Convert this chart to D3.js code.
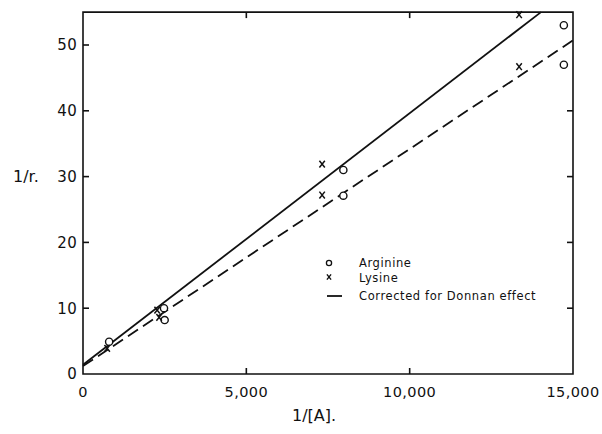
<!DOCTYPE html>
<html><head><meta charset="utf-8">
<script src="https://cdn.jsdelivr.net/npm/d3@7"></script>
<style>body{margin:0;background:#fff}svg{display:block}text{font-family:"DejaVu Sans",sans-serif;fill:#111}</style>
</head><body><div id="c"></div>
<script>
// Data
const arginine = [[800,4.9],[2480,10.0],[2500,8.2],[7970,31.0],[7970,27.1],[14720,53.0],[14720,47.0]];
const lysine = [[740,3.9],[2270,9.7],[2330,8.6],[7320,31.9],[7320,27.2],[13350,54.6],[13350,46.7]];
const solidLine = [[0,1.4],[14020,55]];     // Corrected for Donnan effect
const dashedLine = [[0,1.2],[15000,50.7]];  // uncorrected fit
const xTicks = [0,5000,10000,15000];
const xTickLabels = ["0","5,000","10,000","15,000"];
const yTicks = [0,10,20,30,40,50];
const legendItems = ["Arginine","Lysine","Corrected for Donnan effect"];

const W=602,H=434;
const svg=d3.select("#c").append("svg").attr("width",W).attr("height",H);
const x=d3.scaleLinear().domain([0,15000]).range([83,573]);
const y=d3.scaleLinear().domain([0,55]).range([374,12.1]);

// frame
const g=svg.append("g").attr("stroke","#111").attr("stroke-width",1.6).attr("fill","none");
g.append("path").attr("d",`M${x(0)},${y(55)}H${x(15000)}V${y(0)}H${x(0)}Z`);

// inward ticks
const tl=6;
yTicks.filter(d=>d>0).forEach(d=>{
  g.append("line").attr("x1",x(0)).attr("x2",x(0)+tl).attr("y1",y(d)).attr("y2",y(d));
  if(d<50) g.append("line").attr("x1",x(15000)).attr("x2",x(15000)-tl).attr("y1",y(d)).attr("y2",y(d));
});
[5000,10000].forEach(d=>{
  g.append("line").attr("x1",x(d)).attr("x2",x(d)).attr("y1",y(0)).attr("y2",y(0)-tl);
  g.append("line").attr("x1",x(d)).attr("x2",x(d)).attr("y1",y(55)).attr("y2",y(55)+tl);
});

// tick labels
svg.append("g").selectAll("text").data(yTicks).join("text")
  .attr("x",x(0)-6).attr("y",d=>y(d)).attr("dy","0.36em").attr("text-anchor","end")
  .attr("font-size",15).attr("letter-spacing",0.3).text(d=>d);
svg.append("g").selectAll("text").data(xTicks).join("text")
  .attr("x",d=>x(d)).attr("y",y(0)+23).attr("text-anchor","middle")
  .attr("font-size",14.5).attr("letter-spacing",0.4).text((d,i)=>xTickLabels[i]);

// axis titles
svg.append("text").attr("x",13).attr("y",y(30)+5).attr("font-size",16).text("1/r.");
svg.append("text").attr("x",314).attr("y",421).attr("text-anchor","middle").attr("font-size",16).text("1/[A].");

// lines
const line=d3.line().x(d=>x(d[0])).y(d=>y(d[1]));
svg.append("path").datum(solidLine).attr("d",line).attr("stroke","#111").attr("stroke-width",1.8).attr("fill","none");
svg.append("path").datum(dashedLine).attr("d",line).attr("stroke","#111").attr("stroke-width",1.8)
  .attr("stroke-dasharray","12,6").attr("fill","none");

// markers
svg.append("g").selectAll("circle").data(arginine).join("circle")
  .attr("cx",d=>x(d[0])).attr("cy",d=>y(d[1])).attr("r",3.6)
  .attr("fill","#fff").attr("stroke","#111").attr("stroke-width",1.4);
const cross=(cx,cy,s)=>`M${cx-s*0.8},${cy-s}L${cx+s*0.8},${cy+s}M${cx+s*0.8},${cy-s}L${cx-s*0.8},${cy+s}`;
svg.append("g").selectAll("path").data(lysine).join("path")
  .attr("d",d=>cross(x(d[0]),y(d[1]),3.4)).attr("stroke","#111").attr("stroke-width",1.5).attr("fill","none");

// legend
const lg=svg.append("g");
lg.append("circle").attr("cx",329).attr("cy",263).attr("r",2.6).attr("fill","none").attr("stroke","#111").attr("stroke-width",1.3);
lg.append("path").attr("d",cross(329,277,2.6)).attr("stroke","#111").attr("stroke-width",1.4);
lg.append("line").attr("x1",327).attr("x2",342).attr("y1",296).attr("y2",296).attr("stroke","#111").attr("stroke-width",1.8);
lg.selectAll("text").data(legendItems).join("text")
  .attr("x",359).attr("y",(d,i)=>[267,282,300][i]).attr("font-size",11.5).attr("letter-spacing",0.6).text(d=>d);
</script></body></html>
